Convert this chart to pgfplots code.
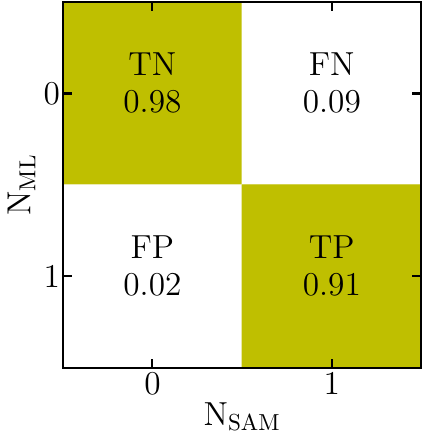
\documentclass[border=0pt]{standalone}
\usepackage{pgfplots}
\pgfplotsset{compat=1.18}
\definecolor{olivecell}{RGB}{191,191,0}
\tikzset{cell/.style={font={\fontsize{14.4}{15.8}\selectfont}, align=center, yshift=4.5pt}}
\begin{document}
\begin{tikzpicture}
\begin{axis}[
  scale only axis,
  width=155pt, height=158pt,
  xmin=-0.5, xmax=1.5, ymin=-0.5, ymax=1.5,
  y dir=reverse,
  xtick={0,1}, ytick={0,1},
  tick align=inside,
  major tick length=3.9pt,
  axis line style={line width=0.9pt},
  every tick/.style={black, line width=0.9pt},
  tick label style={font=\Large},
  yticklabel style={inner xsep=1pt},
  xticklabel style={inner ysep=2pt},
  label style={font=\Large},
  xlabel={$\mathrm{N}_{\mathrm{SAM}}$},
  ylabel={$\mathrm{N}_{\mathrm{ML}}$},
  xlabel style={yshift=2pt},
  ylabel style={yshift=-1pt},
  colormap={cm}{color=(white) color=(olivecell)},
  point meta min=0, point meta max=1,
  axis on top,
]
\addplot[matrix plot*, mesh/cols=2, point meta=explicit]
  table[meta=c] {
x y c
0 0 1
1 0 0
0 1 0
1 1 1
};
\node[cell] at (axis cs:0,0) {TN\\0.98};
\node[cell] at (axis cs:1,0) {FN\\0.09};
\node[cell] at (axis cs:0,1) {FP\\0.02};
\node[cell] at (axis cs:1,1) {TP\\0.91};
\end{axis}
\coordinate (sw) at (current bounding box.south west);
\pgfresetboundingbox
\useasboundingbox (sw) rectangle ([yshift=0.9pt]current axis.north east);
\end{tikzpicture}
\end{document}
